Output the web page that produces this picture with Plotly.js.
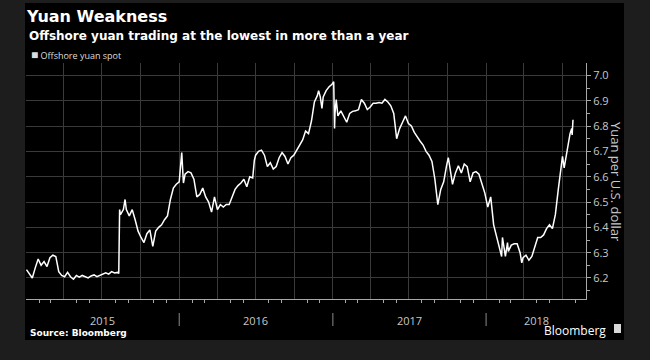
<!DOCTYPE html>
<html>
<head>
<meta charset="utf-8">
<script src="https://cdn.plot.ly/plotly-3.0.1.min.js"></script>
<style>
html,body{margin:0;padding:0;background:#1d1d1d;width:650px;height:360px;overflow:hidden;}
#chart{position:absolute;left:25px;top:3px;width:599px;height:337px;}
</style>
</head>
<body>
<div id="chart"></div>
<script>
const dates = [
"2015-01-02","2015-01-09","2015-01-16","2015-01-23","2015-01-30","2015-02-06","2015-02-13","2015-02-20","2015-02-27",
"2015-03-06","2015-03-13","2015-03-20","2015-03-27","2015-04-03","2015-04-10","2015-04-17","2015-04-24","2015-05-01",
"2015-05-08","2015-05-15","2015-05-22","2015-05-29","2015-06-05","2015-06-12","2015-06-19","2015-06-26","2015-07-03",
"2015-07-10","2015-07-17","2015-07-24","2015-07-31","2015-08-07","2015-08-10","2015-08-11","2015-08-12","2015-08-14",
"2015-08-21","2015-08-25","2015-08-28","2015-09-04","2015-09-11","2015-09-18","2015-09-25","2015-10-02","2015-10-09",
"2015-10-16","2015-10-23","2015-10-30","2015-11-06","2015-11-13","2015-11-20","2015-11-27","2015-12-04","2015-12-11",
"2015-12-18","2015-12-25",
"2016-01-01","2016-01-07","2016-01-11","2016-01-15","2016-01-22","2016-01-29","2016-02-05","2016-02-12","2016-02-19",
"2016-02-26","2016-03-04","2016-03-11","2016-03-18","2016-03-25","2016-04-01","2016-04-08","2016-04-15","2016-04-22",
"2016-04-29","2016-05-06","2016-05-13","2016-05-20","2016-05-27","2016-06-03","2016-06-10","2016-06-17","2016-06-24",
"2016-06-28","2016-07-01","2016-07-08","2016-07-15","2016-07-22","2016-07-29","2016-08-05","2016-08-12","2016-08-19",
"2016-08-26","2016-09-02","2016-09-09","2016-09-16","2016-09-23","2016-09-30","2016-10-07","2016-10-14","2016-10-21",
"2016-10-28","2016-11-04","2016-11-11","2016-11-18","2016-11-25","2016-11-28","2016-12-02","2016-12-06","2016-12-09",
"2016-12-16","2016-12-23","2016-12-30",
"2017-01-03","2017-01-05","2017-01-06","2017-01-09","2017-01-13","2017-01-20","2017-01-27","2017-02-03","2017-02-10",
"2017-02-17","2017-02-24","2017-03-03","2017-03-10","2017-03-17","2017-03-24","2017-03-31","2017-04-07","2017-04-14",
"2017-04-21","2017-04-28","2017-05-05","2017-05-12","2017-05-19","2017-05-26","2017-06-02","2017-06-09","2017-06-16",
"2017-06-23","2017-06-30","2017-07-07","2017-07-14","2017-07-21","2017-07-28","2017-08-04","2017-08-11","2017-08-18",
"2017-08-25","2017-09-01","2017-09-08","2017-09-15","2017-09-22","2017-09-29","2017-10-03","2017-10-06","2017-10-13",
"2017-10-20","2017-10-27","2017-11-03","2017-11-10","2017-11-17","2017-11-24","2017-12-01","2017-12-08","2017-12-15",
"2017-12-22","2017-12-29",
"2018-01-05","2018-01-12","2018-01-19","2018-01-26","2018-02-02","2018-02-07","2018-02-09","2018-02-16","2018-02-21",
"2018-02-23","2018-03-02","2018-03-09","2018-03-16","2018-03-23","2018-03-27","2018-03-30","2018-04-06","2018-04-13",
"2018-04-20","2018-04-27","2018-05-04","2018-05-11","2018-05-18","2018-05-25","2018-06-01","2018-06-08","2018-06-15",
"2018-06-22","2018-06-29","2018-07-02","2018-07-06","2018-07-13","2018-07-20","2018-07-24","2018-07-25","2018-07-27"
];
const yuanSpot = [
6.233,6.215,6.200,6.240,6.275,6.250,6.265,6.245,6.280,
6.290,6.285,6.225,6.210,6.205,6.222,6.205,6.195,6.210,
6.203,6.210,6.205,6.200,6.208,6.212,6.205,6.210,6.218,
6.220,6.215,6.225,6.220,6.222,6.218,6.440,6.470,6.450,
6.470,6.510,6.470,6.445,6.470,6.430,6.385,6.360,6.340,
6.375,6.390,6.325,6.385,6.400,6.410,6.430,6.445,6.510,
6.555,6.570,
6.580,6.695,6.575,6.610,6.620,6.615,6.590,6.520,6.530,
6.555,6.520,6.500,6.460,6.520,6.470,6.490,6.480,6.490,
6.490,6.520,6.550,6.565,6.575,6.590,6.560,6.600,6.595,
6.665,6.685,6.700,6.705,6.685,6.640,6.655,6.630,6.640,
6.675,6.695,6.680,6.650,6.675,6.685,6.705,6.730,6.745,
6.780,6.770,6.820,6.895,6.920,6.940,6.915,6.870,6.915,
6.940,6.955,6.965,
6.975,6.790,6.850,6.905,6.840,6.860,6.835,6.815,6.850,
6.858,6.860,6.865,6.905,6.890,6.865,6.875,6.890,6.890,
6.893,6.890,6.905,6.895,6.880,6.850,6.750,6.790,6.815,
6.840,6.810,6.800,6.775,6.755,6.740,6.725,6.700,6.685,
6.660,6.590,6.490,6.550,6.580,6.645,6.675,6.645,6.570,
6.615,6.643,6.615,6.650,6.640,6.580,6.615,6.620,6.610,
6.570,6.535,
6.480,6.520,6.410,6.360,6.310,6.285,6.360,6.285,6.340,
6.305,6.330,6.335,6.335,6.300,6.260,6.280,6.290,6.270,
6.285,6.325,6.360,6.360,6.370,6.395,6.410,6.395,6.450,
6.550,6.630,6.680,6.635,6.710,6.770,6.790,6.765,6.825
];
const yearLabels = ["2015","2016","2017","2018"];
const yearLabelPos = ["2015-07-02","2016-07-01","2017-07-02","2018-04-30"];
const yearBounds = ["2016-01-01","2017-01-01","2018-01-01"];
const xRange = ["2015-01-01","2018-08-27"];
const yRange = [6.117, 7.049];

const PH = 236, PW = 560; // plot size in px (for placing text around the plot)
const py = p => p / PH;
const px = p => p / PW;

const grid = '#3a3a3a';
const axisGray = '#a8a8a8';
const tickGray = '#c8c8c8';

const trace = {
  x: dates, y: yuanSpot, type: 'scatter', mode: 'lines',
  name: 'Offshore yuan spot',
  line: {color: '#ffffff', width: 1.5},
  showlegend: false, hoverinfo: 'x+y'
};

const shapes = yearBounds.map(d => ({
  type: 'line', xref: 'x', yref: 'paper', x0: d, x1: d,
  y0: -py(14), y1: -py(27), line: {color: '#8a8a8a', width: 1}
}));
shapes.push({type: 'rect', xref: 'paper', yref: 'paper',
  x0: 1 + px(28), x1: 1 + px(35), y0: -py(25), y1: -py(34),
  fillcolor: '#d8d8d8', line: {width: 0}});

const annotations = [
  {text: 'Offshore yuan trading at the lowest in more than a year', xref: 'paper', yref: 'paper',
   x: px(1), y: 1 + py(27), xanchor: 'left', yanchor: 'middle', showarrow: false,
   font: {family: 'DejaVu Sans', size: 12, color: '#ffffff', weight: 'bold'}},
  {text: '<span style="font-size:12px">■</span> Offshore yuan spot', xref: 'paper', yref: 'paper',
   x: px(3), y: 1 + py(9), xanchor: 'left', yanchor: 'middle', showarrow: false,
   font: {family: 'Open Sans', size: 9, color: '#dddddd'}},
  {text: 'Source: Bloomberg', xref: 'paper', yref: 'paper',
   x: px(2), y: -py(34), xanchor: 'left', yanchor: 'middle', showarrow: false,
   font: {family: 'DejaVu Sans', size: 9, color: '#ffffff', weight: 'bold'}},
  {text: 'Bloomberg', xref: 'paper', yref: 'paper',
   x: 1 + px(22), y: -py(31), xanchor: 'right', yanchor: 'middle', showarrow: false,
   font: {family: 'Open Sans', size: 12, color: '#ffffff'}},
  {text: 'Yuan per U.S. dollar', xref: 'paper', yref: 'paper', textangle: 90,
   x: 1 + px(30), y: 0.496, xanchor: 'center', yanchor: 'middle', showarrow: false,
   font: {family: 'Open Sans', size: 13, color: '#c8c8c8'}}
];
yearLabels.forEach((t, i) => annotations.push({
  text: t, xref: 'x', yref: 'paper', x: yearLabelPos[i], y: -py(21),
  xanchor: 'center', yanchor: 'middle', showarrow: false,
  font: {family: 'Open Sans', size: 11, color: tickGray}
}));

const layout = {
  width: 599, height: 337,
  margin: {l: 1, r: 38, t: 60, b: 41, pad: 0},
  paper_bgcolor: '#000000', plot_bgcolor: '#000000',
  showlegend: false,
  title: {text: 'Yuan Weakness', xref: 'container', yref: 'container',
    x: 2/599, xanchor: 'left', y: 1 - 13/337, yanchor: 'middle',
    font: {family: 'DejaVu Sans', size: 16, color: '#ffffff', weight: 'bold'}},
  xaxis: {
    type: 'date', range: xRange, fixedrange: true,
    tick0: '2015-01-01', dtick: 'M3', showticklabels: false,
    ticks: '', showgrid: true, gridcolor: grid, gridwidth: 1,
    minor: {dtick: 'M1', tick0: '2015-01-01', ticks: 'outside', ticklen: 3, tickcolor: axisGray, showgrid: false},
    showline: true, linecolor: axisGray, linewidth: 1, zeroline: false
  },
  yaxis: {
    side: 'right', range: yRange, fixedrange: true,
    dtick: 0.1, tick0: 6.0, tickformat: '.1f',
    ticks: 'outside', ticklen: 4, tickcolor: axisGray,
    minor: {dtick: 0.05, tick0: 6.0, ticks: 'outside', ticklen: 3, tickcolor: axisGray, showgrid: false},
    showgrid: true, gridcolor: grid, gridwidth: 1, zeroline: false,
    showline: true, linecolor: axisGray, linewidth: 1,
    tickfont: {family: 'Open Sans', size: 11, color: tickGray}
  },
  shapes: shapes,
  annotations: annotations
};

Plotly.newPlot('chart', [trace], layout, {displayModeBar: false, staticPlot: true});
</script>
</body>
</html>
